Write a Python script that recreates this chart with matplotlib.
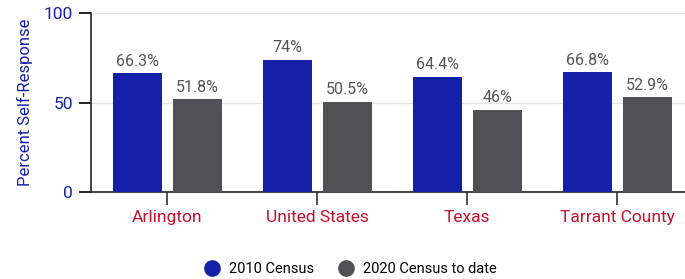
import matplotlib.pyplot as plt
import numpy as np
from matplotlib.lines import Line2D

categories = ['Arlington', 'United States', 'Texas', 'Tarrant County']
census_2010 = [66.3, 74, 64.4, 66.8]
census_2020 = [51.8, 50.5, 46, 52.9]
labels_2010 = ['66.3%', '74%', '64.4%', '66.8%']
labels_2020 = ['51.8%', '50.5%', '46%', '52.9%']

blue = '#1420a8'
gray = '#505055'
red = '#c8102e'

plt.rcParams['font.family'] = ['Roboto', 'DejaVu Sans']

fig = plt.figure(figsize=(6.85, 2.79), dpi=100)
ax = fig.add_axes([0.133, 0.312, 0.867, 0.641])

x = np.arange(len(categories))
w = 0.327
off = 0.2
ax.bar(x - off, census_2010, w, color=blue, label='2010 Census', zorder=3)
ax.bar(x + off, census_2020, w, color=gray, label='2020 Census to date', zorder=3)

# value labels above bars
for xi, v, t in zip(x - off, census_2010, labels_2010):
    ax.text(xi, v + 2.5, t, ha='center', va='bottom', fontsize=11.5, color='#555555')
for xi, v, t in zip(x + off, census_2020, labels_2020):
    ax.text(xi, v + 2.5, t, ha='center', va='bottom', fontsize=11.5, color='#555555')

ax.set_ylim(0, 100)
ax.set_xlim(-0.507, 3.453)
ax.set_yticks([0, 50, 100])
ax.set_yticklabels(['0', '50', '100'], color=blue, fontsize=12.5)
ax.set_xticks(x)
ax.set_xticklabels(categories, color=red, fontsize=12.5)
ax.tick_params(axis='y', length=9, width=1.2, pad=4)
ax.tick_params(axis='x', length=9, width=1.2, pad=4, color='#333333')
ax.grid(axis='y', color='#e3e3e3', linewidth=1, zorder=0)
ax.set_ylabel('Percent Self-Response', color=blue, fontsize=12, labelpad=8)

for s in ['top', 'right']:
    ax.spines[s].set_visible(False)
for s in ['left', 'bottom']:
    ax.spines[s].set_color('#222222')
    ax.spines[s].set_linewidth(1.2)

handles = [Line2D([], [], marker='o', linestyle='', markersize=11, color=blue),
           Line2D([], [], marker='o', linestyle='', markersize=11, color=gray)]
fig.legend(handles, ['2010 Census', '2020 Census to date'], loc='center',
           bbox_to_anchor=(0.507, 0.037), ncol=2, frameon=False, fontsize=10.5,
           handletextpad=0.15, columnspacing=1.2)

fig.savefig('out.png', dpi=100)
